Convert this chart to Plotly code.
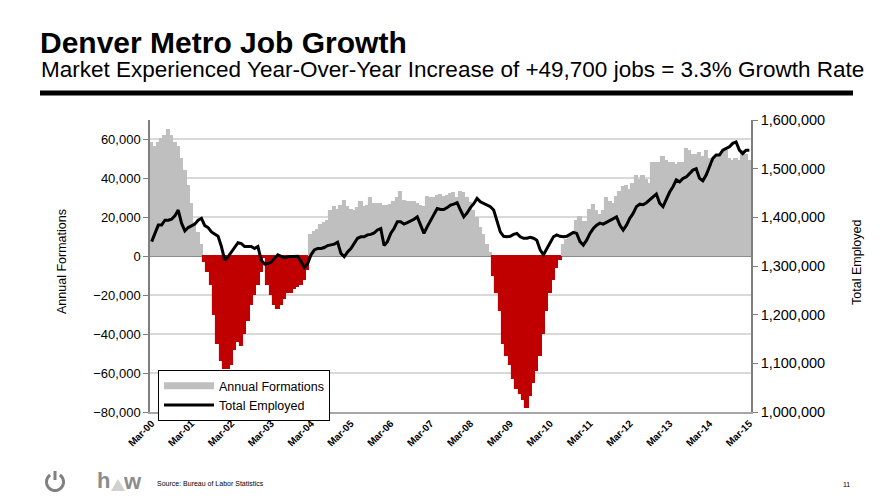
import math
import plotly.graph_objects as go

# ---------------- data ----------------
tick_labels = ["Mar-00", "Mar-01", "Mar-02", "Mar-03", "Mar-04", "Mar-05", "Mar-06", "Mar-07",
               "Mar-08", "Mar-09", "Mar-10", "Mar-11", "Mar-12", "Mar-13", "Mar-14", "Mar-15"]

# Year-over-year change in jobs, monthly Mar-2000 .. Mar-2015
annual_formations = [
    58000, 56000, 58000, 60000, 62000, 65000, 62000, 58000, 56000, 50000, 44000, 36000,
    27000, 17000, 12000, 6000, -3000, -8000, -15000, -30000, -45000, -54000, -58000, -58000,
    -56000, -48000, -44000, -46000, -40000, -33000, -25000, -20000, -15000, -8000, -1000, -15000,
    -20000, -25000, -27000, -25000, -22000, -19000, -19000, -17000, -16000, -15000, -12000, -7000,
    11000, 12600, 13500, 16000, 17000, 18000, 23000, 25500, 24000, 26000, 28400, 25500,
    24000, 23000, 24600, 27700, 25500, 26000, 30000, 26700, 26700, 26700, 26000, 26000,
    26300, 28000, 30000, 33000, 28400, 27700, 27700, 27700, 26700, 26000, 25500, 30600,
    29700, 30000, 31000, 31500, 30600, 31000, 31800, 32300, 29700, 33200, 32300, 29700,
    27200, 23000, 19500, 14400, 11000, 5800, 1500, -10000, -19000, -28000, -45000, -51000,
    -56000, -63000, -68000, -71000, -74000, -78000, -72000, -65000, -59000, -51000, -40000, -28000,
    -19000, -12000, -6000, -2000, 5800, 8400, 10600, 11500, 18000, 20000, 17800, 17800,
    23800, 26300, 23000, 21000, 23000, 29700, 28000, 27000, 30600, 32800, 35700, 36000,
    34000, 37000, 41000, 39000, 41000, 39000, 37000, 48000, 48000, 48000, 51000, 49000,
    48000, 48000, 47000, 48000, 48000, 55000, 54000, 52000, 52000, 53000, 51000, 54000,
    50000, 47000, 51000, 52000, 53000, 54000, 50000, 49000, 50000, 49000, 54000, 52000,
    49000,
]

total_employed = [
    1350000, 1367000, 1384000, 1384000, 1394000, 1394000, 1396000, 1403000, 1415000, 1388000, 1372000, 1379000,
    1382000, 1386000, 1394000, 1398000, 1383000, 1379000, 1370000, 1365000, 1361000, 1340000, 1312000, 1319000,
    1329000, 1340000, 1348000, 1346000, 1340000, 1340000, 1340000, 1336000, 1340000, 1312000, 1304000, 1305000,
    1308000, 1316000, 1323000, 1320000, 1317000, 1319000, 1319000, 1320000, 1320000, 1309000, 1297000, 1305000,
    1323000, 1333000, 1336000, 1336000, 1338000, 1342000, 1343000, 1345000, 1349000, 1326000, 1319000, 1329000,
    1336000, 1347000, 1357000, 1360000, 1360000, 1364000, 1365000, 1368000, 1374000, 1377000, 1342000, 1350000,
    1367000, 1377000, 1391000, 1391000, 1386000, 1389000, 1392000, 1396000, 1401000, 1384000, 1367000, 1381000,
    1394000, 1407000, 1418000, 1416000, 1416000, 1420000, 1425000, 1427000, 1430000, 1415000, 1401000, 1409000,
    1420000, 1428000, 1439000, 1432000, 1429000, 1425000, 1422000, 1415000, 1394000, 1370000, 1361000, 1360000,
    1361000, 1365000, 1367000, 1360000, 1357000, 1357000, 1359000, 1357000, 1353000, 1333000, 1323000, 1336000,
    1350000, 1360000, 1364000, 1361000, 1360000, 1361000, 1365000, 1369000, 1367000, 1350000, 1343000, 1353000,
    1367000, 1377000, 1384000, 1388000, 1386000, 1390000, 1393000, 1398000, 1401000, 1384000, 1374000, 1384000,
    1398000, 1408000, 1422000, 1427000, 1426000, 1430000, 1437000, 1442000, 1448000, 1429000, 1422000, 1439000,
    1452000, 1463000, 1477000, 1473000, 1480000, 1483000, 1490000, 1497000, 1500000, 1480000, 1475000, 1487000,
    1504000, 1521000, 1528000, 1528000, 1538000, 1541000, 1545000, 1552000, 1555000, 1538000, 1531000, 1538000,
    1538000,
]

months = list(range(len(annual_formations)))
tick_vals = months[::12]

# ---------------- style ----------------
GRAY = "#BFBFBF"
RED = "#C00000"
FONT = "Liberation Sans, Arial, sans-serif"
NARROW = "Liberation Sans Narrow, Arial Narrow, Liberation Sans, Arial, sans-serif"

# the page puts the figure 8px in from the top-left corner
OFF = 8
W, H = 871, 487
PL, PR, PT, PB = 150, 751, 120, 412  # plot area in page pixels


def px(x):
    return (x - PL) / (PR - PL)


def py(y):
    return (PB - y) / (PB - PT)


bar_colors = [RED if v < 0 else GRAY for v in annual_formations]

fig = go.Figure()
fig.add_trace(go.Bar(
    x=months, y=annual_formations,
    marker=dict(color=bar_colors, line=dict(color=bar_colors, width=1.1)),
    showlegend=False, hoverinfo="skip",
))
# legend swatch for the bars (wide flat gray bar, as in the reference)
fig.add_trace(go.Scatter(
    x=[None], y=[None], mode="lines", name="Annual Formations",
    line=dict(color=GRAY, width=7),
))
fig.add_trace(go.Scatter(
    x=months, y=total_employed, yaxis="y2", mode="lines", name="Total Employed",
    line=dict(color="black", width=3),
))

fig.update_layout(
    width=W, height=H,
    margin=dict(l=PL - OFF, r=(W + OFF) - PR, t=PT - OFF, b=(H + OFF) - PB, autoexpand=False),
    paper_bgcolor="white", plot_bgcolor="white",
    bargap=0,
    font=dict(family=FONT, color="black"),
    xaxis=dict(
        range=[-0.5, len(months) - 0.5],
        tickmode="array", tickvals=tick_vals, ticktext=tick_labels,
        tickangle=-45, tickfont=dict(size=10, family=FONT, color="black", weight="bold"),
        showgrid=False, zeroline=False,
        showline=True, linecolor="#A6A6A6", linewidth=1.5,
        ticks="",
    ),
    yaxis=dict(
        range=[-80000, 70000], dtick=20000, tick0=0, tickformat=",",
        tickfont=dict(size=13, family=FONT),
        showgrid=True, gridcolor="#D9D9D9", gridwidth=1.5,
        zeroline=True, zerolinecolor="#8C8C8C", zerolinewidth=2,
        showline=True, linecolor="#7F7F7F", linewidth=1.5,
        ticks="outside", ticklen=5, tickcolor="#7F7F7F",
    ),
    yaxis2=dict(
        range=[1000000, 1600000], dtick=100000, tickformat=",",
        overlaying="y", side="right",
        tickfont=dict(size=14.5, family=FONT),
        showgrid=False, zeroline=False,
        showline=True, linecolor="#7F7F7F", linewidth=1.5,
        ticks="outside", ticklen=5, tickcolor="#7F7F7F",
    ),
    legend=dict(
        x=px(158), y=py(370), xanchor="left", yanchor="top",
        bgcolor="white", bordercolor="black", borderwidth=1,
        font=dict(size=12.5, family=FONT),
        itemwidth=50, tracegroupgap=0,
    ),
    showlegend=True,
)

annotations = [
    dict(text="<b>Denver Metro Job Growth</b>", x=px(38), y=py(42), xanchor="left", yanchor="middle",
         font=dict(size=30, family=FONT, color="black")),
    dict(text="Market Experienced Year-Over-Year Increase of +49,700 jobs = 3.3% Growth Rate",
         x=px(39), y=py(70), xanchor="left", yanchor="middle",
         font=dict(size=22.5, family=FONT, color="black")),
    dict(text="Annual Formations", x=px(62), y=py(262), textangle=-90, xanchor="center", yanchor="middle",
         font=dict(size=12.5, family=NARROW, color="black")),
    dict(text="Total Employed", x=px(857), y=py(262), textangle=-90, xanchor="center", yanchor="middle",
         font=dict(size=12.5, family=NARROW, color="black")),
    dict(text="Source: Bureau of Labor Statistics", x=px(155), y=py(483), xanchor="left", yanchor="middle",
         font=dict(size=7, family=FONT, color="black")),
    dict(text="11", x=px(846), y=py(484), xanchor="center", yanchor="middle",
         font=dict(size=7, family=FONT, color="black")),
    dict(text="<b>h</b>", x=px(103), y=py(480), xanchor="center", yanchor="middle",
         font=dict(size=22, family=FONT, color="#8C8C8C")),
    dict(text="<b>w</b>", x=px(132), y=py(481), xanchor="center", yanchor="middle",
         font=dict(size=22, family=FONT, color="#8C8C8C")),
]
for a in annotations:
    a.update(xref="paper", yref="paper", showarrow=False)
fig.update_layout(annotations=annotations)

# decorative shapes: title rule and logo pieces
cx, cy, r = 55, 482, 8.5
arc = []
for k in range(0, 41):
    t = math.radians(35 + k * (290 / 40))  # angle from top, clockwise, gap at top
    arc.append((cx + r * math.sin(t), cy - r * math.cos(t)))
arc_path = "M " + " L ".join(f"{px(x):.5f},{py(y):.5f}" for x, y in arc)

tri = [(111, 491), (118, 479), (125, 491)]
tri_path = "M " + " L ".join(f"{px(x):.5f},{py(y):.5f}" for x, y in tri) + " Z"

shapes = [
    dict(type="line", x0=px(40), x1=px(853), y0=py(93), y1=py(93), line=dict(color="black", width=5)),
    dict(type="path", path=arc_path, line=dict(color="#808080", width=3)),
    dict(type="line", x0=px(cx), x1=px(cx), y0=py(cy - 11), y1=py(cy - 2), line=dict(color="#808080", width=3)),
    dict(type="path", path=tri_path, fillcolor="#D0D0D0", line=dict(width=0)),
]
for s in shapes:
    s.update(xref="paper", yref="paper", layer="above")
fig.update_layout(shapes=shapes)

fig.write_html("out.html")
